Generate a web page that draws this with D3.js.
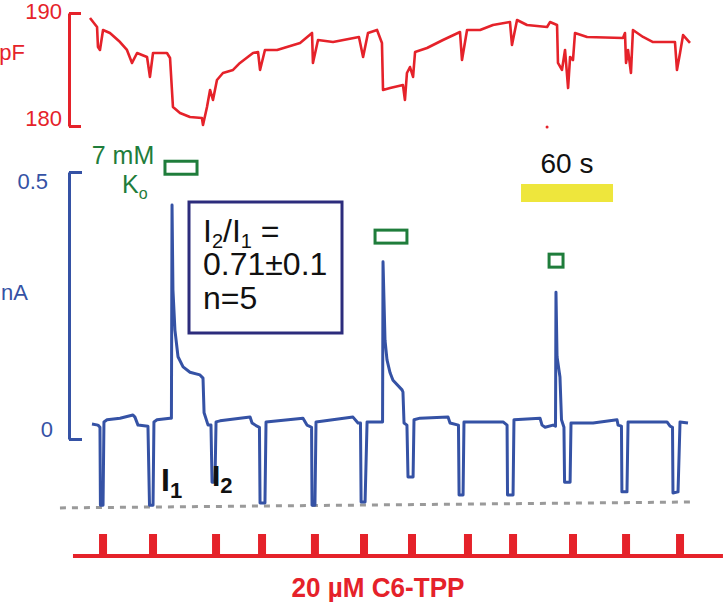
<!DOCTYPE html>
<html>
<head>
<meta charset="utf-8">
<title>C6-TPP capacitance and current</title>
<style>
  body { margin: 0; background: #fff; }
  svg { display: block; font-family: "Liberation Sans", Arial, sans-serif; }
</style>
</head>
<body>
<script src="https://cdn.jsdelivr.net/npm/d3@7/dist/d3.min.js"></script>
<script>
// capacitance trace (time in s, pF)
var capT = [0,4.6,5.2,6.5,8.5,13.0,19.6,24.1,27.4,30.7,37.2,39.1,41.1,50.2,52.2,54.1,58.7,65.2,73.0,73.7,
  76.3,78.3,80.2,82.8,86.7,93.3,97.8,106.3,109.6,110.9,114.1,122.0,137.0,144.8,145.4,148.7,158.5,175.4,178.1,181.3,
  187.2,190.4,191.1,195.7,204.1,205.4,206.7,208.7,210.7,212.0,219.8,230.2,241.3,242.6,245.9,254.4,262.8,273.9,275.2,278.5,
  285.0,298.1,300.0,304.6,305.2,307.8,309.8,311.8,313.1,315.0,316.3,324.2,347.6,348.9,349.6,350.9,352.8,354.1,360.7,367.2,
  381.5,382.8,384.8,386.8,391.3];
var capPF = [189.56,188.76,186.99,186.73,188.50,188.23,187.43,186.73,185.58,186.46,186.11,184.34,186.46,186.46,186.02,181.68,181.15,180.80,180.71,180.09,
  181.68,183.19,182.30,184.07,184.69,184.96,185.58,186.46,186.55,184.96,186.73,186.73,187.35,188.23,185.58,187.61,187.43,187.88,186.11,188.23,
  188.50,187.35,183.19,183.36,183.63,182.30,184.69,185.22,184.34,186.55,186.90,187.61,188.32,185.84,188.50,188.50,188.94,189.20,187.17,189.38,
  188.94,188.76,189.20,188.94,185.58,184.96,186.73,183.36,186.11,185.84,188.23,187.88,187.79,188.23,185.58,186.73,184.69,188.50,187.88,187.43,
  187.43,184.96,186.46,188.05,187.35];

// membrane current trace (time in s, nA)
var curT = [1.3,5.2,6.5,6.8,8.5,9.1,11.1,19.6,28.0,29.3,31.3,37.8,38.8,41.1,41.7,43.7,52.2,53.1,53.5,
  54.1,55.4,57.4,60.7,65.2,71.7,73.7,74.4,77.0,78.9,79.6,81.5,82.2,84.8,104.4,105.7,108.9,110.5,
  110.9,114.1,114.8,138.9,141.5,144.5,144.8,146.7,147.4,171.5,174.8,176.4,176.8,179.4,180.7,189.1,190.8,191.1,
  192.4,193.7,195.7,197.6,203.5,204.1,204.8,206.7,207.4,210.7,211.3,215.2,233.5,234.8,240.3,240.7,243.3,243.9,269.4,
  272.0,272.3,275.9,276.5,293.5,294.8,296.8,302.0,303.6,303.9,304.6,306.5,307.5,309.1,309.5,313.1,313.7,328.1,343.7,344.4,
  346.6,346.9,350.2,350.9,376.3,378.3,379.9,380.2,383.5,384.8,390.0];
var curNA = [0.028,0.026,0.022,-0.124,-0.124,0.032,0.036,0.039,0.045,0.041,0.026,0.024,-0.124,-0.124,0.032,0.036,0.039,0.039,0.438,
  0.279,0.204,0.154,0.135,0.125,0.120,0.114,0.049,0.026,0.026,-0.081,-0.081,0.032,0.034,0.041,0.030,0.024,0.022,
  -0.120,-0.120,0.032,0.039,0.026,0.022,-0.124,-0.124,0.032,0.041,0.030,0.030,-0.118,-0.118,0.032,0.032,0.032,0.332,
  0.185,0.148,0.124,0.110,0.092,0.088,0.030,0.026,-0.071,-0.071,0.036,0.039,0.041,0.030,0.026,-0.105,-0.105,0.032,0.032,
  0.026,-0.105,-0.105,0.036,0.039,0.026,0.022,0.026,0.024,0.275,0.154,0.116,0.036,0.022,-0.081,-0.081,0.030,0.030,0.036,0.026,
  0.024,-0.099,-0.099,0.032,0.032,0.024,0.022,-0.101,-0.099,0.032,0.030];

// dashed reference line under the pulse minima
var refT = [-19.6, 391.3];
var refNA = [-0.129, -0.118];

// 7 mM Ko applications (start, end in s) and marker level (nA)
var kStart = [48.9, 185.9, 299.4];
var kEnd = [69.8, 206.7, 308.5];
var kLevel = [0.508, 0.379, 0.334];

// C6-TPP puffs (pulse centre, s)
var puffT = [8.5, 41.1, 82.2, 112.2, 146.7, 178.7, 210.0, 246.5, 275.9, 315.0, 349.6, 384.8];
var puffSpan = [-11.1, 412.8];

// scale bars
var capBar = [180, 190];
var curBar = [0, 0.5];
var timeBar = [281.1, 341.1];

var red = "#e5222a", blue = "#3552a5", green = "#1f7d3b", navy = "#2c2c7c";

var width = 723, height = 602;
var svg = d3.select("body").append("svg")
    .attr("width", width).attr("height", height);

var x = d3.scaleLinear().domain([0, 60]).range([90, 182]);
var yC = d3.scaleLinear().domain([180, 190]).range([126, 13]);
var yI = d3.scaleLinear().domain([0, 0.5]).range([439, 172]);
var yS = d3.scaleLinear().domain([0, 1]).range([556, 534]);

// ---- capacitance panel
var capAxis = d3.axisLeft(yC).tickValues(capBar).tickSizeInner(-12).tickSizeOuter(0).tickFormat("");
svg.append("g").attr("transform", "translate(69,0)").call(capAxis)
    .call(function (g) {
        g.selectAll("path, line").attr("stroke", red).attr("stroke-width", 3);
    });
svg.append("text").text("190").attr("x", 62).attr("y", yC(190) + 6)
    .attr("text-anchor", "end").attr("font-size", 22).attr("fill", red);
svg.append("text").text("180").attr("x", 62).attr("y", yC(180))
    .attr("text-anchor", "end").attr("font-size", 22).attr("fill", red);
svg.append("text").text("pF").attr("x", 25).attr("y", 60)
    .attr("text-anchor", "end").attr("font-size", 22).attr("fill", red);

var capLine = d3.line().x(function (d, i) { return x(capT[i]); }).y(function (d) { return yC(d); });
svg.append("path").datum(capPF).attr("d", capLine)
    .attr("fill", "none").attr("stroke", red).attr("stroke-width", 2.6)
    .attr("stroke-linejoin", "round");

// stray mark under capacitance trace
svg.append("circle").attr("cx", x(298.1)).attr("cy", 127).attr("r", 1.5).attr("fill", red);

// ---- current panel
var curAxis = d3.axisLeft(yI).tickValues(curBar).tickSizeInner(-13).tickSizeOuter(0).tickFormat("");
svg.append("g").attr("transform", "translate(69,0)").call(curAxis)
    .call(function (g) {
        g.selectAll("path, line").attr("stroke", blue).attr("stroke-width", 3);
    });
svg.append("text").text("0.5").attr("x", 48).attr("y", yI(0.5) + 17)
    .attr("text-anchor", "end").attr("font-size", 22).attr("fill", blue);
svg.append("text").text("nA").attr("x", 28).attr("y", 300)
    .attr("text-anchor", "end").attr("font-size", 22).attr("fill", blue);
svg.append("text").text("0").attr("x", 53).attr("y", yI(0) - 2)
    .attr("text-anchor", "end").attr("font-size", 22).attr("fill", blue);

// dashed reference
var refLine = d3.line().x(function (d, i) { return x(refT[i]); }).y(function (d) { return yI(d); });
svg.append("path").datum(refNA).attr("d", refLine)
    .attr("fill", "none").attr("stroke", "#9a9a9a").attr("stroke-width", 3)
    .attr("stroke-dasharray", "6,6");

var curLine = d3.line().x(function (d, i) { return x(curT[i]); }).y(function (d) { return yI(d); });
svg.append("path").datum(curNA).attr("d", curLine)
    .attr("fill", "none").attr("stroke", blue).attr("stroke-width", 3)
    .attr("stroke-linejoin", "round");

// K+ application markers
svg.selectAll("rect.k").data(kStart).enter().append("rect").attr("class", "k")
    .attr("x", function (d) { return x(d); })
    .attr("y", function (d, i) { return yI(kLevel[i]) - 6.5; })
    .attr("width", function (d, i) { return x(kEnd[i]) - x(d); })
    .attr("height", 13)
    .attr("fill", "none").attr("stroke", green).attr("stroke-width", 3);

svg.append("text").text("7 mM").attr("x", 123).attr("y", 164)
    .attr("text-anchor", "middle").attr("font-size", 25).attr("fill", green);
var ko = svg.append("text").attr("x", 122).attr("y", 193).attr("font-size", 25).attr("fill", green);
ko.append("tspan").text("K");
ko.append("tspan").text("o").attr("font-size", 16).attr("dy", 6);

// ratio box
svg.append("rect").attr("x", 189).attr("y", 202).attr("width", 153).attr("height", 131)
    .attr("fill", "none").attr("stroke", navy).attr("stroke-width", 3);
var r1 = svg.append("text").attr("x", 203).attr("y", 242).attr("font-size", 32).attr("fill", "#111");
r1.append("tspan").text("I");
r1.append("tspan").text("2").attr("font-size", 20).attr("dy", 6);
r1.append("tspan").text("/I").attr("dy", -6);
r1.append("tspan").text("1").attr("font-size", 20).attr("dy", 6);
r1.append("tspan").text(" =").attr("dy", -6);
svg.append("text").text("0.71\u00b10.1").attr("x", 203).attr("y", 275)
    .attr("font-size", 32).attr("fill", "#111");
svg.append("text").text("n=5").attr("x", 203).attr("y", 309)
    .attr("font-size", 32).attr("fill", "#111");

// I1 / I2 labels
var i1 = svg.append("text").attr("x", 161).attr("y", 491).attr("font-size", 32)
    .attr("font-weight", "bold").attr("fill", "#111");
i1.append("tspan").text("I");
i1.append("tspan").text("1").attr("font-size", 22).attr("dy", 7);
var i2 = svg.append("text").attr("x", 212).attr("y", 486).attr("font-size", 30)
    .attr("font-weight", "bold").attr("fill", "#111");
i2.append("tspan").text("I");
i2.append("tspan").text("2").attr("font-size", 22).attr("dy", 7);

// 60 s scale bar
svg.append("rect").attr("x", x(timeBar[0])).attr("y", 184)
    .attr("width", x(timeBar[1]) - x(timeBar[0])).attr("height", 18)
    .attr("fill", "#eee63c");
svg.append("text").text("60 s").attr("x", (x(timeBar[0]) + x(timeBar[1])) / 2).attr("y", 173)
    .attr("text-anchor", "middle").attr("font-size", 28).attr("fill", "#111");

// ---- C6-TPP puffs
svg.append("line").attr("x1", x(puffSpan[0])).attr("x2", x(puffSpan[1]))
    .attr("y1", yS(0)).attr("y2", yS(0))
    .attr("stroke", red).attr("stroke-width", 4);
svg.selectAll("rect.puff").data(puffT).enter().append("rect").attr("class", "puff")
    .attr("x", function (d) { return x(d) - 4; })
    .attr("y", yS(1))
    .attr("width", 8)
    .attr("height", yS(0) - yS(1))
    .attr("fill", red);
svg.append("text").text("20 \u00b5M C6-TPP").attr("x", 378).attr("y", 597)
    .attr("text-anchor", "middle").attr("font-size", 28).attr("font-weight", "bold")
    .attr("textLength", 173).attr("lengthAdjust", "spacingAndGlyphs")
    .attr("fill", red);
</script>
